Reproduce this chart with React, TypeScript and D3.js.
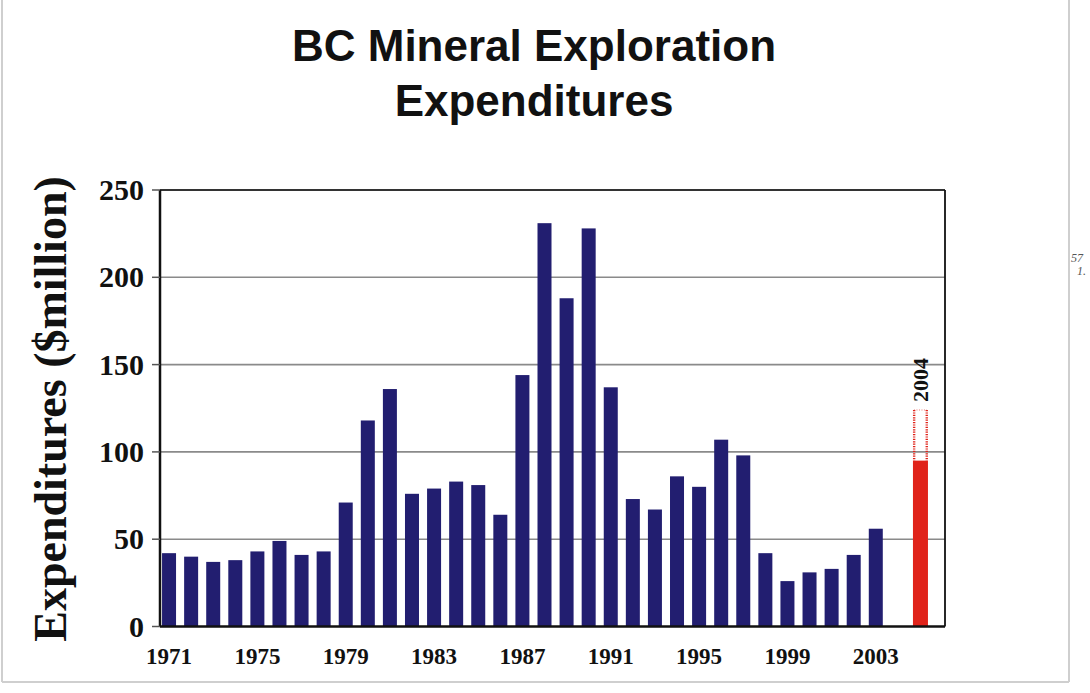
import React from "react";
import * as d3 from "d3";

const blueYears: string[] = [
  "1971", "1972", "1973", "1974", "1975", "1976", "1977", "1978", "1979", "1980",
  "1981", "1982", "1983", "1984", "1985", "1986", "1987", "1988", "1989", "1990",
  "1991", "1992", "1993", "1994", "1995", "1996", "1997", "1998", "1999", "2000",
  "2001", "2002", "2003",
];
const blueValues: number[] = [
  42, 40, 37, 38, 43, 49, 41, 43, 71, 118,
  136, 76, 79, 83, 81, 64, 144, 231, 188, 228,
  137, 73, 67, 86, 80, 107, 98, 42, 26, 31,
  33, 41, 56,
];
const gapKey = "gap";
const estYear = "2004";
const estActual = 95;
const estProjected = 124;
const yTicks: number[] = [0, 50, 100, 150, 200, 250];
const xTickLabels: string[] = ["1971", "1975", "1979", "1983", "1987", "1991", "1995", "1999", "2003"];
const titleLines: string[] = ["BC Mineral Exploration", "Expenditures"];
const yLabel = "Expenditures ($million)";

const W = 1090;
const H = 693;
const plotLeft = 160;
const plotRight = 945;
const plotTop = 190;
const plotBottom = 626.5;

export default function App() {
  const domain = [...blueYears, gapKey, estYear];
  const pi = 0.366;
  const x = d3.scaleBand<string>().domain(domain).range([158, 931]).paddingInner(pi).paddingOuter(pi / 2);
  const y = d3.scaleLinear().domain([0, 250]).range([plotBottom, plotTop]);
  const bw = x.bandwidth();
  const serif = "'Liberation Serif', 'Times New Roman', serif";
  const sans = "'Liberation Sans', Arial, sans-serif";
  const navy = "#221e70";
  const red = "#e0231a";

  const ex = x(estYear)!;

  return (
    <svg width={W} height={H} style={{ position: "absolute", left: 0, top: 0, background: "#fff" }}>
      {/* outer frame */}
      <line x1={2} y1={0} x2={2} y2={682} stroke="#cfcfcf" strokeWidth={2} />
      <line x1={2} y1={682} x2={1069} y2={682} stroke="#cfcfcf" strokeWidth={2} />
      <line x1={1069} y1={0} x2={1069} y2={682} stroke="#cfcfcf" strokeWidth={2} />

      {/* title */}
      {titleLines.map((t, i) => (
        <text key={t} x={534} y={61 + i * 55} textAnchor="middle" fontFamily={sans} fontWeight="bold" fontSize={44} fill="#111">
          {t}
        </text>
      ))}

      {/* y label */}
      <text
        transform={`translate(66, ${409}) rotate(-90)`}
        textAnchor="middle"
        fontFamily={serif}
        fontWeight="bold"
        fontSize={46}
        fill="#111"
      >
        {yLabel}
      </text>

      {/* gridlines */}
      {yTicks.filter((t) => t > 0 && t < 250).map((t) => (
        <line key={"g" + t} x1={plotLeft} x2={plotRight} y1={y(t)} y2={y(t)} stroke="#8a8a8a" strokeWidth={1.6} />
      ))}

      {/* frame top / right */}
      <line x1={plotLeft} x2={plotRight} y1={plotTop} y2={plotTop} stroke="#333" strokeWidth={1.8} />
      <line x1={plotRight} x2={plotRight} y1={plotTop} y2={plotBottom} stroke="#111" strokeWidth={1.8} />

      {/* bars */}
      {blueYears.map((yr, i) => (
        <rect key={yr} x={x(yr)!} y={y(blueValues[i])} width={bw} height={y(0) - y(blueValues[i])} fill={navy} />
      ))}

      {/* 2004 estimate */}
      <rect x={ex} y={y(estActual)} width={bw + 1} height={y(0) - y(estActual)} fill={red} />
      <line x1={ex + 1.2} x2={ex + 1.2} y1={y(estProjected)} y2={y(estActual)} stroke={red} strokeWidth={2.4} strokeDasharray="1.2,1.2" />
      <line x1={ex + bw - 0.2} x2={ex + bw - 0.2} y1={y(estProjected)} y2={y(estActual)} stroke={red} strokeWidth={2.4} strokeDasharray="1.2,1.2" />
      <line x1={ex + 1} x2={ex + bw} y1={y(estProjected)} y2={y(estProjected)} stroke={red} strokeWidth={1} strokeDasharray="1,1.5" opacity={0.6} />
      <text
        transform={`translate(${ex + bw / 2 + 8}, ${y(estProjected) - 30}) rotate(-90)`}
        textAnchor="middle"
        fontFamily={serif}
        fontWeight="bold"
        fontSize={22}
        fill="#111"
      >
        {estYear}
      </text>

      {/* axes */}
      <line x1={plotLeft} x2={plotLeft} y1={plotTop} y2={plotBottom} stroke="#111" strokeWidth={2.5} />
      <line x1={plotLeft} x2={plotRight} y1={plotBottom} y2={plotBottom} stroke="#111" strokeWidth={2.5} />
      {yTicks.map((t) => (
        <g key={"t" + t}>
          <line x1={152} x2={plotLeft} y1={y(t)} y2={y(t)} stroke="#555" strokeWidth={1.5} />
          <text x={144} y={y(t) + 10} textAnchor="end" fontFamily={serif} fontWeight="bold" fontSize={30} fill="#111">
            {t}
          </text>
        </g>
      ))}
      {xTickLabels.map((lbl) => (
        <text key={lbl} x={x(lbl)! + bw / 2} y={664} textAnchor="middle" fontFamily={serif} fontWeight="bold" fontSize={23} fill="#111">
          {lbl}
        </text>
      ))}

      {/* clipped fragment at right edge */}
      <text x={1071} y={262} fontFamily={serif} fontStyle="italic" fontSize={12} fill="#555">57</text>
      <text x={1077} y={275} fontFamily={serif} fontStyle="italic" fontSize={12} fill="#555">1.</text>
    </svg>
  );
}
